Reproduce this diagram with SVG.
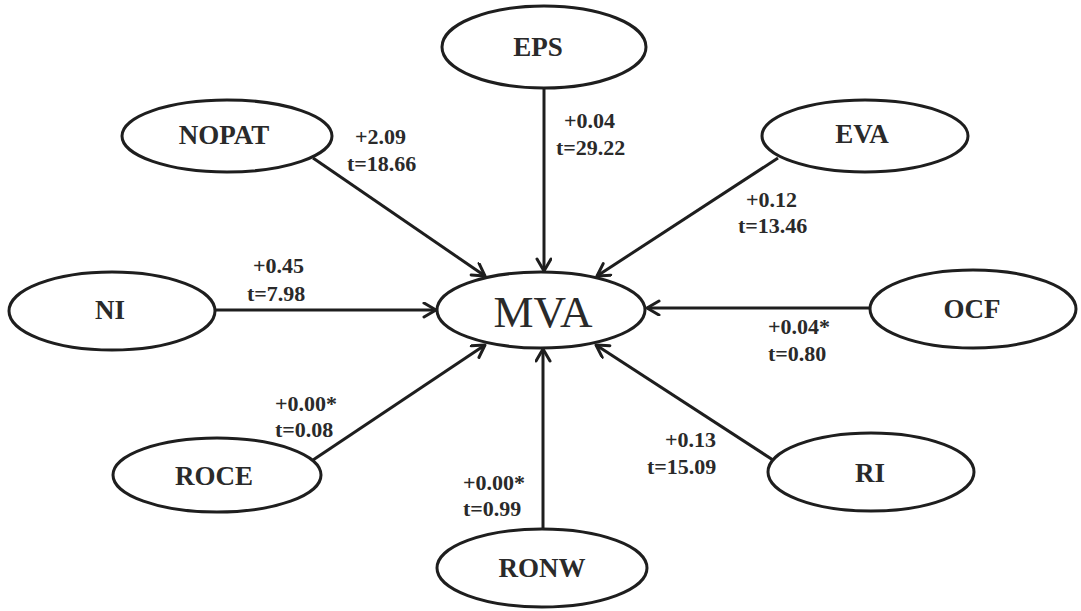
<svg xmlns="http://www.w3.org/2000/svg" width="1081" height="611" viewBox="0 0 1081 611">
  <style>
    .node ellipse { fill: #ffffff; stroke: #1e1e1e; stroke-width: 3; }
    .node text { font-family: "Liberation Serif", "Times New Roman", serif; font-weight: bold; font-size: 27px; fill: #2a2a2a; text-anchor: middle; }
    #MVA text { font-weight: normal; font-size: 45px; }
    .edge { stroke: #1e1e1e; stroke-width: 3; fill: none; marker-end: url(#arrow); }
    .lbl { font-family: "Liberation Serif", "Times New Roman", serif; font-weight: bold; font-size: 22px; fill: #2a2a2a; }
  </style>
  <defs>
    <marker id="arrow" markerUnits="userSpaceOnUse" markerWidth="20" markerHeight="20" refX="14" refY="8" orient="auto">
      <path d="M2,1 L14,8 L2,15" fill="none" stroke="#1e1e1e" stroke-width="3" stroke-linecap="round" stroke-linejoin="round"/>
    </marker>
  </defs>
  <rect width="1081" height="611" fill="#ffffff"/>

  <!-- paths into MVA -->
  <g id="connectors">
    <line class="edge" x1="313" y1="158" x2="485" y2="276"/>
    <line class="edge" x1="544" y1="88" x2="544" y2="271"/>
    <line class="edge" x1="778" y1="158" x2="597" y2="276"/>
    <line class="edge" x1="215" y1="310" x2="436" y2="310"/>
    <line class="edge" x1="870" y1="308" x2="647" y2="308"/>
    <line class="edge" x1="313" y1="460" x2="485" y2="345"/>
    <line class="edge" x1="543" y1="529" x2="543" y2="349"/>
    <line class="edge" x1="773" y1="460" x2="596" y2="345"/>
  </g>

  <!-- path coefficients -->
  <g id="labels">
    <text class="lbl" x="355" y="144">+2.09</text>
    <text class="lbl" x="347" y="171">t=18.66</text>
    <text class="lbl" x="564" y="128">+0.04</text>
    <text class="lbl" x="556" y="155">t=29.22</text>
    <text class="lbl" x="746" y="207">+0.12</text>
    <text class="lbl" x="738" y="233">t=13.46</text>
    <text class="lbl" x="253" y="273">+0.45</text>
    <text class="lbl" x="247" y="301">t=7.98</text>
    <text class="lbl" x="768" y="334">+0.04*</text>
    <text class="lbl" x="768" y="361">t=0.80</text>
    <text class="lbl" x="275" y="411">+0.00*</text>
    <text class="lbl" x="275" y="437">t=0.08</text>
    <text class="lbl" x="463" y="490">+0.00*</text>
    <text class="lbl" x="463" y="516">t=0.99</text>
    <text class="lbl" x="665" y="447">+0.13</text>
    <text class="lbl" x="647" y="474">t=15.09</text>
  </g>

  <g id="EPS" class="node">
    <ellipse cx="544" cy="47" rx="102" ry="41"/>
    <text x="538" y="56">EPS</text>
  </g>
  <g id="NOPAT" class="node">
    <ellipse cx="227" cy="136" rx="105" ry="36"/>
    <text x="224" y="144">NOPAT</text>
  </g>
  <g id="EVA" class="node">
    <ellipse cx="865" cy="136" rx="103" ry="36"/>
    <text x="862" y="143">EVA</text>
  </g>
  <g id="NI" class="node">
    <ellipse cx="112" cy="311" rx="103" ry="39"/>
    <text x="110" y="319">NI</text>
  </g>
  <g id="MVA" class="node">
    <ellipse cx="541" cy="310" rx="104" ry="38"/>
    <text x="543" y="327">MVA</text>
  </g>
  <g id="OCF" class="node">
    <ellipse cx="973" cy="309" rx="103" ry="39"/>
    <text x="972" y="318">OCF</text>
  </g>
  <g id="ROCE" class="node">
    <ellipse cx="217" cy="475" rx="104" ry="37"/>
    <text x="214" y="485">ROCE</text>
  </g>
  <g id="RONW" class="node">
    <ellipse cx="542" cy="568" rx="105" ry="39"/>
    <text x="542" y="577">RONW</text>
  </g>
  <g id="RI" class="node">
    <ellipse cx="871" cy="472" rx="103" ry="39"/>
    <text x="870" y="482">RI</text>
  </g>
</svg>
